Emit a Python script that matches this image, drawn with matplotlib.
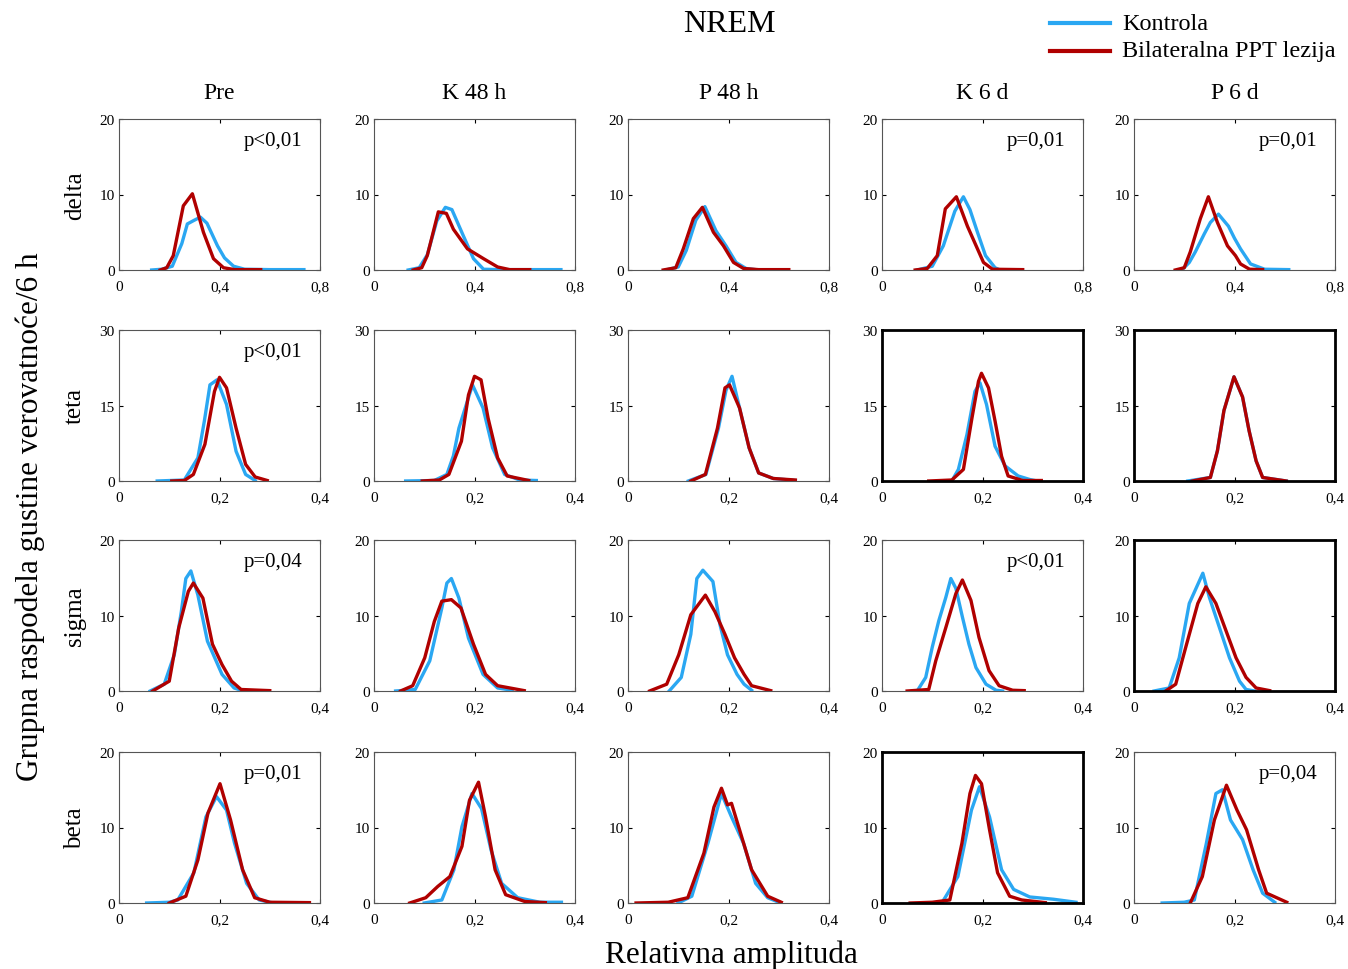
"""NREM: grupne raspodele gustine verovatnoce relativne amplitude (delta/teta/sigma/beta)."""
import matplotlib
matplotlib.use("Agg")
import matplotlib.pyplot as plt

plt.rcParams["font.family"] = ["Liberation Serif", "DejaVu Serif"]

BLUE = "#2aa7f2"
RED = "#b00000"

bands = ["delta", "teta", "sigma", "beta"]
conditions = ["Pre", "K 48 h", "P 48 h", "K 6 d", "P 6 d"]
x_max = [0.8, 0.4, 0.4, 0.4]
y_max = [20, 30, 20, 20]
y_ticks = [[0, 10, 20], [0, 15, 30], [0, 10, 20], [0, 10, 20]]

# p-values shown per panel (band, condition)
p_values = {
    ("delta", "Pre"): "p<0,01",
    ("delta", "K 6 d"): "p=0,01",
    ("delta", "P 6 d"): "p=0,01",
    ("teta", "Pre"): "p<0,01",
    ("sigma", "Pre"): "p=0,04",
    ("sigma", "K 6 d"): "p<0,01",
    ("beta", "Pre"): "p=0,01",
    ("beta", "P 6 d"): "p=0,04",
}
# panels drawn with a heavy black frame
bold_frames = [("teta", "K 6 d"), ("teta", "P 6 d"), ("sigma", "P 6 d"), ("beta", "K 6 d")]

# curves: (x, y) per condition
delta_kontrola = {
    "Pre": ([0.13, 0.17, 0.212, 0.25, 0.272, 0.30, 0.324, 0.35, 0.392, 0.42, 0.456, 0.50, 0.60, 0.736],
            [0.0, 0.1, 0.5, 3.5, 6.1, 6.6, 7.0, 6.2, 3.2, 1.6, 0.5, 0.1, 0.05, 0.05]),
    "K 48 h": ([0.136, 0.18, 0.212, 0.25, 0.284, 0.31, 0.356, 0.396, 0.436, 0.50, 0.744],
               [0.0, 0.3, 2.0, 6.5, 8.3, 8.0, 4.5, 1.5, 0.1, 0.05, 0.05]),
    "P 48 h": ([0.15, 0.20, 0.232, 0.27, 0.306, 0.35, 0.39, 0.43, 0.47, 0.52],
               [0.0, 0.4, 2.6, 6.6, 8.4, 5.2, 3.2, 1.0, 0.2, 0.0]),
    "K 6 d": ([0.14, 0.20, 0.244, 0.29, 0.324, 0.35, 0.38, 0.412, 0.45, 0.47],
              [0.0, 0.5, 3.2, 7.8, 9.7, 8.0, 5.0, 1.9, 0.3, 0.0]),
    "P 6 d": ([0.19, 0.22, 0.244, 0.28, 0.304, 0.336, 0.376, 0.40, 0.424, 0.464, 0.52, 0.616],
              [0.0, 1.0, 2.4, 4.8, 6.3, 7.4, 5.8, 4.2, 2.8, 0.8, 0.1, 0.05]),
}
delta_lezija = {
    "Pre": ([0.164, 0.19, 0.216, 0.256, 0.292, 0.336, 0.376, 0.416, 0.46, 0.564],
            [0.0, 0.3, 1.9, 8.5, 10.1, 5.0, 1.5, 0.3, 0.05, 0.05]),
    "K 48 h": ([0.156, 0.19, 0.212, 0.256, 0.288, 0.316, 0.372, 0.436, 0.492, 0.54, 0.62],
               [0.0, 0.3, 1.9, 7.7, 7.5, 5.4, 2.8, 1.5, 0.4, 0.05, 0.05]),
    "P 48 h": ([0.14, 0.19, 0.22, 0.26, 0.296, 0.34, 0.38, 0.42, 0.46, 0.52, 0.64],
               [0.0, 0.3, 2.8, 6.8, 8.3, 5.0, 3.2, 1.0, 0.2, 0.05, 0.05]),
    "K 6 d": ([0.132, 0.18, 0.22, 0.252, 0.296, 0.34, 0.38, 0.404, 0.44, 0.56],
              [0.0, 0.2, 1.9, 8.1, 9.7, 5.8, 2.8, 1.0, 0.1, 0.05]),
    "P 6 d": ([0.164, 0.20, 0.224, 0.264, 0.296, 0.332, 0.372, 0.404, 0.424, 0.46, 0.512],
              [0.0, 0.3, 2.4, 6.8, 9.7, 6.3, 3.2, 1.9, 0.8, 0.1, 0.05]),
}

teta_kontrola = {
    "Pre": ([0.076, 0.13, 0.157, 0.17, 0.181, 0.195, 0.214, 0.233, 0.252, 0.271],
            [0.0, 0.2, 4.6, 12.0, 19.1, 20.1, 15.2, 5.9, 1.3, 0.1]),
    "K 48 h": ([0.063, 0.12, 0.145, 0.158, 0.169, 0.196, 0.217, 0.236, 0.26, 0.29, 0.323],
               [0.0, 0.1, 1.3, 5.0, 10.5, 19.1, 14.5, 6.6, 1.3, 0.2, 0.1]),
    "P 48 h": ([0.12, 0.155, 0.18, 0.195, 0.207, 0.222, 0.241, 0.26, 0.289, 0.333],
               [0.0, 1.3, 10.5, 18.0, 20.8, 14.5, 6.6, 1.6, 0.5, 0.1]),
    "K 6 d": ([0.139, 0.152, 0.169, 0.185, 0.195, 0.208, 0.225, 0.245, 0.271, 0.294, 0.304],
              [0.0, 2.3, 9.2, 17.8, 19.5, 15.2, 6.9, 3.0, 1.0, 0.3, 0.1]),
    "P 6 d": ([0.107, 0.152, 0.166, 0.179, 0.199, 0.216, 0.229, 0.243, 0.256, 0.303],
              [0.0, 0.7, 6.0, 14.0, 20.7, 16.7, 10.0, 4.0, 0.7, 0.0]),
}
teta_lezija = {
    "Pre": ([0.105, 0.13, 0.148, 0.171, 0.19, 0.20, 0.214, 0.233, 0.252, 0.271, 0.295],
            [0.0, 0.1, 1.3, 7.3, 17.8, 20.6, 18.5, 10.5, 3.3, 0.8, 0.1]),
    "K 48 h": ([0.096, 0.13, 0.149, 0.174, 0.188, 0.20, 0.213, 0.227, 0.246, 0.265, 0.308],
               [0.0, 0.2, 1.3, 7.9, 17.1, 20.8, 20.1, 12.5, 4.6, 1.0, 0.1]),
    "P 48 h": ([0.125, 0.154, 0.178, 0.193, 0.202, 0.222, 0.241, 0.26, 0.289, 0.333],
               [0.0, 1.3, 10.5, 18.5, 19.1, 14.5, 6.6, 1.6, 0.5, 0.2]),
    "K 6 d": ([0.093, 0.139, 0.162, 0.179, 0.192, 0.198, 0.212, 0.225, 0.238, 0.251, 0.28, 0.317],
              [0.0, 0.2, 2.3, 12.5, 19.8, 21.4, 18.5, 11.9, 4.9, 1.0, 0.1, 0.1]),
    "P 6 d": ([0.116, 0.152, 0.166, 0.179, 0.199, 0.216, 0.229, 0.243, 0.256, 0.303],
              [0.0, 0.7, 6.0, 14.0, 20.7, 16.7, 10.0, 4.0, 0.7, 0.0]),
}

sigma_kontrola = {
    "Pre": ([0.062, 0.09, 0.11, 0.124, 0.133, 0.143, 0.157, 0.176, 0.205, 0.229, 0.243],
            [0.0, 0.9, 4.8, 10.5, 14.9, 15.9, 12.7, 6.6, 2.2, 0.4, 0.1]),
    "K 48 h": ([0.043, 0.082, 0.111, 0.135, 0.145, 0.154, 0.169, 0.188, 0.217, 0.246, 0.275],
               [0.0, 0.2, 4.0, 11.0, 14.3, 14.9, 12.3, 7.0, 2.2, 0.4, 0.1]),
    "P 48 h": ([0.082, 0.106, 0.125, 0.137, 0.149, 0.169, 0.183, 0.198, 0.217, 0.231, 0.246],
               [0.0, 1.8, 7.5, 14.9, 16.0, 14.5, 8.8, 4.8, 2.2, 0.9, 0.1]),
    "K 6 d": ([0.07, 0.087, 0.10, 0.113, 0.127, 0.137, 0.147, 0.16, 0.173, 0.187, 0.207, 0.227, 0.24],
              [0.0, 1.8, 5.8, 9.3, 12.4, 14.9, 13.6, 9.8, 6.2, 3.1, 0.9, 0.1, 0.0]),
    "P 6 d": ([0.04, 0.07, 0.09, 0.11, 0.137, 0.15, 0.17, 0.19, 0.21, 0.223, 0.24],
              [0.0, 0.4, 4.4, 11.6, 15.6, 12.4, 8.4, 4.4, 1.3, 0.2, 0.0]),
}
sigma_lezija = {
    "Pre": ([0.067, 0.10, 0.119, 0.138, 0.148, 0.167, 0.186, 0.205, 0.224, 0.243, 0.30],
            [0.0, 1.3, 8.4, 13.2, 14.3, 12.3, 6.2, 3.5, 1.3, 0.2, 0.05]),
    "K 48 h": ([0.053, 0.077, 0.101, 0.12, 0.135, 0.154, 0.173, 0.198, 0.222, 0.246, 0.299],
               [0.0, 0.7, 4.4, 9.2, 11.9, 12.1, 11.0, 6.2, 2.2, 0.7, 0.05]),
    "P 48 h": ([0.043, 0.077, 0.101, 0.125, 0.154, 0.173, 0.193, 0.212, 0.231, 0.246, 0.284],
               [0.0, 0.9, 4.8, 10.1, 12.7, 10.5, 7.5, 4.4, 2.2, 0.7, 0.05]),
    "K 6 d": ([0.05, 0.093, 0.107, 0.127, 0.147, 0.16, 0.177, 0.193, 0.213, 0.233, 0.26, 0.283],
              [0.0, 0.2, 4.0, 8.4, 12.9, 14.7, 12.0, 7.1, 2.7, 0.7, 0.1, 0.05]),
    "P 6 d": ([0.063, 0.083, 0.103, 0.127, 0.143, 0.163, 0.183, 0.203, 0.223, 0.243, 0.27],
              [0.0, 0.9, 5.8, 11.6, 13.8, 11.6, 8.0, 4.4, 1.8, 0.4, 0.05]),
}

beta_kontrola = {
    "Pre": ([0.055, 0.10, 0.117, 0.149, 0.173, 0.194, 0.214, 0.23, 0.254, 0.279, 0.30],
            [0.0, 0.1, 0.4, 4.0, 11.4, 14.1, 12.3, 7.9, 2.6, 0.4, 0.1]),
    "K 48 h": ([0.10, 0.135, 0.159, 0.175, 0.195, 0.214, 0.233, 0.254, 0.286, 0.33, 0.373],
               [0.0, 0.4, 4.4, 10.1, 14.5, 12.5, 7.0, 2.6, 0.7, 0.1, 0.1]),
    "P 48 h": ([0.10, 0.127, 0.159, 0.186, 0.206, 0.23, 0.254, 0.278, 0.30],
               [0.0, 0.9, 7.9, 14.5, 11.4, 7.9, 2.6, 0.7, 0.1]),
    "K 6 d": ([0.119, 0.151, 0.178, 0.194, 0.214, 0.238, 0.262, 0.294, 0.341, 0.386],
              [0.0, 3.5, 12.3, 15.4, 11.4, 4.4, 1.8, 0.8, 0.5, 0.1]),
    "P 6 d": ([0.056, 0.10, 0.12, 0.144, 0.163, 0.176, 0.192, 0.216, 0.237, 0.256, 0.28],
              [0.0, 0.1, 0.4, 7.9, 14.5, 15.0, 11.0, 8.4, 4.4, 1.3, 0.1]),
}
beta_lezija = {
    "Pre": ([0.10, 0.133, 0.157, 0.177, 0.201, 0.222, 0.246, 0.27, 0.30, 0.379],
            [0.0, 0.9, 5.7, 11.9, 15.8, 11.0, 4.4, 0.7, 0.1, 0.05]),
    "K 48 h": ([0.071, 0.103, 0.127, 0.151, 0.175, 0.19, 0.208, 0.222, 0.241, 0.262, 0.30, 0.341],
               [0.0, 0.7, 2.2, 3.5, 7.5, 13.6, 16.0, 11.4, 4.4, 1.1, 0.2, 0.05]),
    "P 48 h": ([0.016, 0.08, 0.119, 0.151, 0.171, 0.186, 0.198, 0.206, 0.222, 0.246, 0.278, 0.305],
               [0.0, 0.1, 0.7, 6.6, 12.7, 15.2, 13.0, 13.2, 9.7, 4.4, 0.9, 0.1]),
    "K 6 d": ([0.056, 0.10, 0.135, 0.159, 0.175, 0.186, 0.198, 0.214, 0.23, 0.254, 0.278, 0.325],
              [0.0, 0.1, 0.4, 7.9, 14.5, 16.9, 15.8, 9.7, 4.0, 0.9, 0.4, 0.05]),
    "P 6 d": ([0.112, 0.136, 0.16, 0.184, 0.205, 0.224, 0.248, 0.264, 0.304],
              [0.0, 3.5, 11.0, 15.6, 12.3, 9.7, 4.4, 1.3, 0.1]),
}

kontrola = [delta_kontrola, teta_kontrola, sigma_kontrola, beta_kontrola]
lezija = [delta_lezija, teta_lezija, sigma_lezija, beta_lezija]


def fmt(v):
    return f"{v:g}".replace(".", ",")


W, H = 1348, 970
fig = plt.figure(figsize=(W / 100, H / 100), dpi=100)

col_left = [119, 374, 628, 882, 1134]
row_top = [120, 331, 541, 753]
aw, ah = 201, 151

for r, band in enumerate(bands):
    for c, cond in enumerate(conditions):
        ax = fig.add_axes([col_left[c] / W, 1 - (row_top[r] + ah) / H, aw / W, ah / H])
        bx, by = kontrola[r][cond]
        rx, ry = lezija[r][cond]
        ax.plot(bx, by, color=BLUE, lw=2.4, solid_joinstyle="round")
        ax.plot(rx, ry, color=RED, lw=2.4, solid_joinstyle="round")
        ax.set_xlim(0, x_max[r])
        ax.set_ylim(0, y_max[r])
        xt = [0, x_max[r] / 2, x_max[r]]
        ax.set_xticks(xt)
        ax.set_xticklabels([fmt(v) for v in xt])
        ax.set_yticks(y_ticks[r])
        ax.set_yticklabels([str(v) for v in y_ticks[r]])
        ax.tick_params(direction="in", length=3, width=0.8, labelsize=11,
                       top=True, right=True, pad=7)
        ax.tick_params(axis="y", pad=3)
        bold = (band, cond) in bold_frames
        for s in ax.spines.values():
            s.set_linewidth(2.0 if bold else 0.8)
            s.set_color("black" if bold else "#555555")
        if (band, cond) in p_values:
            ax.text(0.62, 0.86, p_values[(band, cond)], transform=ax.transAxes,
                    fontsize=15, va="center", ha="left")
        if r == 0:
            ax.set_title(cond, fontsize=17, pad=15)
        if c == 0:
            ax.set_ylabel(band, fontsize=18, labelpad=10)

fig.text(729 / W, 1 - 24 / H, "NREM", fontsize=23, ha="center", va="center")
fig.text(30 / W, 1 - 517 / H, "Grupna raspodela gustine verovatnoće/6 h",
         fontsize=22.5, rotation=90, ha="center", va="center")
fig.text(731 / W, 1 - 955 / H, "Relativna amplituda", fontsize=22.5,
         ha="center", va="center")

# legend drawn as lines in figure coordinates
leg = fig.add_axes([1040 / W, 1 - 66 / H, 300 / W, 60 / H])
leg.set_axis_off()
leg.set_xlim(0, 300)
leg.set_ylim(60, 0)
leg.plot([10, 70], [18, 18], color=BLUE, lw=3)
leg.plot([10, 70], [46, 46], color=RED, lw=3)
leg.text(82, 18, "Kontrola", fontsize=17.5, va="center")
leg.text(82, 46, "Bilateralna PPT lezija", fontsize=17.5, va="center")

fig.savefig("out.png", dpi=100)
